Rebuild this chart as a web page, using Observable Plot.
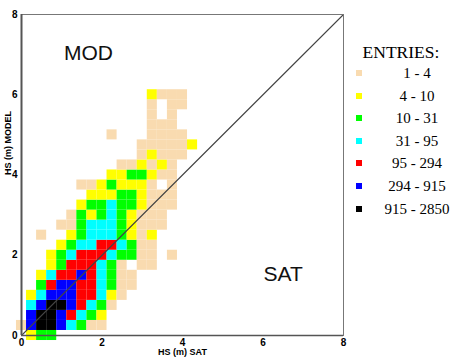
<!DOCTYPE html>
<html>
<head>
<meta charset="utf-8">
<script src="https://cdn.jsdelivr.net/npm/d3@7"></script>
<script src="https://cdn.jsdelivr.net/npm/@observablehq/plot@0.6"></script>
<style>
  body { margin: 0; background: #fff; }
  #wrap { position: relative; width: 455px; height: 362px; overflow: hidden; background: #fff; }
  #wrap svg { position: absolute; left: 0; top: 0; }
  .lg { position: absolute; font-family: "Liberation Serif", "Times New Roman", serif; color: #000; white-space: nowrap; }
  .lg-title { left: 351px; top: 42px; width: 100px; text-align: center; font-size: 17.5px; line-height: 20px; }
  .lg-sw { position: absolute; width: 6px; height: 6px; }
  .lg-lab { left: 384px; width: 66px; text-align: center; font-size: 15px; line-height: 16px; }
</style>
</head>
<body>
<div id="wrap"></div>
<script>
// ---- data ----
const binSize = 0.25;                 // bin width (m) on both axes
const axisTicks = [0, 2, 4, 6, 8];
const xLabel = "HS (m) SAT";
const yLabel = "HS (m) MODEL";
const legendTitle = "ENTRIES:";
const categories = ["1 - 4", "4 - 10", "10 - 31", "31 - 95", "95 - 294", "294 - 915", "915 - 2850"];
const colors = ["#f9dbb0", "#ffff00", "#00ff00", "#00ffff", "#ff0000", "#0000ff", "#000000"];
const quadrantLabels = ["MOD", "SAT"];
const diagonal = [0, 8];
// one string per HS MODEL bin (0, 0.25, 0.5, ...); character k = HS SAT bin k*0.25;
// digit = entries category (1..7 -> categories), "." = no entries
const gridRows = [
  ".233..............",
  "167764311.........",
  ".67765432.........",
  ".467765431........",
  ".2466655421.......",
  "..3566554311......",
  "..2455654311......",
  "...23555431.11....",
  "...23455543311.1..",
  "....2344554311....",
  "..1..234443212....",
  "....11344432111...",
  ".....1323432111...",
  "......2334332111..",
  ".......222332111..",
  "......11232221.1..",
  ".........2233211..",
  "..........112121..",
  "............12111.",
  "............111112",
  ".........1...1111.",
  ".............111..",
  ".............1.1..",
  ".............1.11.",
  ".............2111."
];

// ---- build cells ----
const cells = [];
gridRows.forEach((row, j) => {
  [...row].forEach((ch, i) => {
    if (ch !== ".") cells.push({sat: i * binSize, model: j * binSize, cat: categories[+ch - 1]});
  });
});

const chart = Plot.plot({
  width: 455,
  height: 362,
  marginLeft: 21,
  marginRight: 112,
  marginTop: 14,
  marginBottom: 27,
  x: {domain: [0, 8]},
  y: {domain: [0, 8]},
  color: {domain: categories, range: colors},
  style: {fontFamily: "'Liberation Sans', Arial, sans-serif", fontSize: "10px", fontWeight: "bold", background: "transparent", overflow: "visible"},
  marks: [
    Plot.rect(cells, {
      x1: d => d.sat - binSize / 2,
      x2: d => d.sat + binSize / 2,
      y1: d => d.model - binSize / 2,
      y2: d => d.model + binSize / 2,
      fill: "cat"
    }),
    Plot.line(diagonal, {x: d => d, y: d => d, stroke: "#444", strokeWidth: 1.1}),
    Plot.frame({stroke: "#777", strokeWidth: 1}),
    Plot.ruleX([0], {stroke: "#555", strokeWidth: 2}),
    Plot.ruleY([0], {stroke: "#555", strokeWidth: 1.5}),
    Plot.axisX({ticks: axisTicks, tickSize: 0, tickPadding: 3, label: null, tickFormat: d => String(d)}),
    Plot.axisY({ticks: axisTicks, tickSize: 0, tickPadding: 4, label: null, tickFormat: d => String(d)}),
    Plot.text([xLabel], {frameAnchor: "bottom", dy: 19, fontSize: 9, fontWeight: "bold", text: d => d}),
    Plot.text([yLabel], {frameAnchor: "left", dx: -13, rotate: -90, fontSize: 9, fontWeight: "bold", text: d => d}),
    Plot.text([quadrantLabels[0]], {x: 1.665, y: 7.04, text: d => d, fontSize: 21, fontWeight: "normal", fill: "#111"}),
    Plot.text([quadrantLabels[1]], {x: 6.5, y: 1.53, text: d => d, fontSize: 21, fontWeight: "normal", fill: "#111"})
  ]
});

const wrap = document.getElementById("wrap");
wrap.appendChild(chart);

// ---- legend ----
const title = document.createElement("div");
title.className = "lg lg-title";
title.textContent = legendTitle;
wrap.appendChild(title);
categories.forEach((c, k) => {
  const yc = 73 + 22.6 * k;
  const sw = document.createElement("div");
  sw.className = "lg-sw";
  sw.style.left = "356px";
  sw.style.top = (yc - 3) + "px";
  sw.style.background = colors[k];
  wrap.appendChild(sw);
  const lab = document.createElement("div");
  lab.className = "lg lg-lab";
  lab.style.top = (yc - 8) + "px";
  lab.textContent = c;
  wrap.appendChild(lab);
});
</script>
</body>
</html>
